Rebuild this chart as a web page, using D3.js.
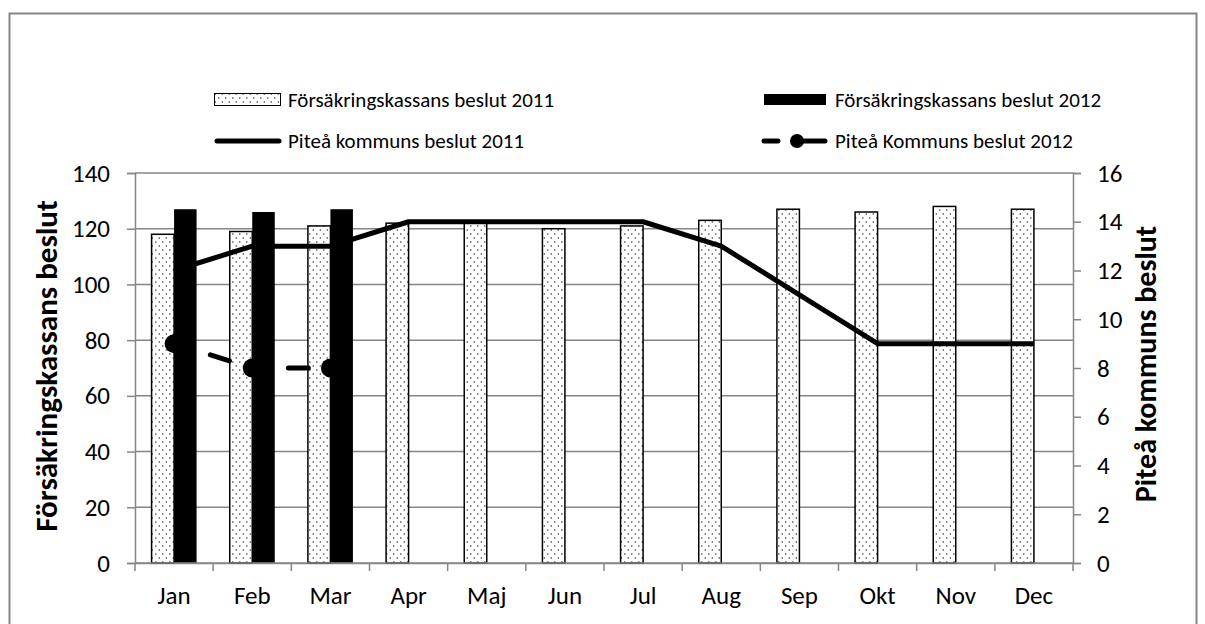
<!DOCTYPE html>
<html><head><meta charset="utf-8">
<script src="https://cdn.jsdelivr.net/npm/d3@7"></script>
<style>
body{margin:0;background:#fff;}
svg text{font-family:Carlito,Calibri,Lato,"Open Sans",sans-serif;fill:#000;}
</style></head>
<body>
<svg id="c" width="1205" height="624"></svg>
<script>
const months = ["Jan","Feb","Mar","Apr","Maj","Jun","Jul","Aug","Sep","Okt","Nov","Dec"];
const fk2011 = [118,119,121,122,122,120,121,123,127,126,128,127];
const fk2012 = [127,126,127];
const pk2011 = [12,13,13,14,14,14,14,13,11,9,9,9];
const pk2012 = [9,8,8];
const leftTicks = [0,20,40,60,80,100,120,140];
const rightTicks = [0,2,4,6,8,10,12,14,16];
const seriesNames = ["Försäkringskassans beslut 2011","Försäkringskassans beslut 2012","Piteå kommuns beslut 2011","Piteå Kommuns beslut 2012"];
const leftTitle = "Försäkringskassans beslut";
const rightTitle = "Piteå kommuns beslut";

const svg = d3.select("#c");
const L=135, R=1073, T=173, B=563;
const grey="#868686";

const defs = svg.append("defs");
const pat = defs.append("pattern").attr("id","dots").attr("patternUnits","userSpaceOnUse")
  .attr("width",7).attr("height",8);
pat.append("rect").attr("width",7).attr("height",8).attr("fill","#fff");
pat.append("circle").attr("cx",1.8).attr("cy",2).attr("r",0.8).attr("fill","#333");
pat.append("circle").attr("cx",5.3).attr("cy",6).attr("r",0.8).attr("fill","#333");

// outer border (bottom edge off-canvas)
svg.append("rect").attr("x",9.5).attr("y",13.5).attr("width",1187).attr("height",640)
  .attr("fill","none").attr("stroke",grey).attr("stroke-width",2);

const x = d3.scaleBand().domain(months).range([L,R]);
const yL = d3.scaleLinear().domain([0,140]).range([B,T]);
const yR = d3.scaleLinear().domain([0,16]).range([B,T]);

// gridlines
svg.append("g").selectAll("line").data(leftTicks.filter(d=>d>0)).join("line")
  .attr("x1",L).attr("x2",R).attr("y1",d=>yL(d)).attr("y2",d=>yL(d))
  .attr("stroke",grey).attr("stroke-width",1.5);

// axes
const axL = svg.append("g").attr("transform",`translate(${L},0)`)
  .call(d3.axisLeft(yL).tickValues(leftTicks).tickSize(8).tickPadding(17));
const axR = svg.append("g").attr("transform",`translate(${R},0)`)
  .call(d3.axisRight(yR).tickValues(rightTicks).tickSize(8).tickPadding(16));
const axB = svg.append("g").attr("transform",`translate(0,${B})`)
  .call(d3.axisBottom(x).tickSize(0).tickPadding(23));
[axL,axR,axB].forEach(a=>{
  a.select(".domain").attr("stroke",grey).attr("stroke-width",1.5);
  a.selectAll(".tick line").attr("stroke",grey).attr("stroke-width",1.5);
  a.selectAll("text").attr("font-size",25).attr("font-family",null);
});
// category boundary ticks
const bounds = months.map(m=>x(m)).concat([R]);
svg.append("g").selectAll("line").data(bounds).join("line")
  .attr("x1",d=>d).attr("x2",d=>d).attr("y1",B).attr("y2",B+8)
  .attr("stroke",grey).attr("stroke-width",1.5);

const bw = 22.5;
const cx = m => x(m)+x.bandwidth()/2;
svg.append("g").selectAll("rect").data(fk2011).join("rect")
  .attr("x",(d,i)=>cx(months[i])-bw).attr("width",bw)
  .attr("y",d=>yL(d)).attr("height",d=>B-yL(d))
  .attr("fill","url(#dots)").attr("stroke","#000").attr("stroke-width",1.5);
svg.append("g").selectAll("rect").data(fk2012).join("rect")
  .attr("x",(d,i)=>cx(months[i])).attr("width",bw)
  .attr("y",d=>yL(d)).attr("height",d=>B-yL(d))
  .attr("fill","#000");

// redraw bottom axis line over bars
svg.append("line").attr("x1",L).attr("x2",R).attr("y1",B).attr("y2",B).attr("stroke",grey).attr("stroke-width",1.5);

const line = d3.line().x((d,i)=>cx(months[i])).y(d=>yR(d));
svg.append("path").datum(pk2011).attr("d",line).attr("fill","none")
  .attr("stroke","#000").attr("stroke-width",5).attr("stroke-linejoin","round");
svg.append("path").datum(pk2012).attr("d",line).attr("fill","none")
  .attr("stroke","#000").attr("stroke-width",5).attr("stroke-linecap","round")
  .attr("stroke-dasharray","0,38,20,22");
svg.append("g").selectAll("circle").data(pk2012).join("circle")
  .attr("cx",(d,i)=>cx(months[i])).attr("cy",d=>yR(d)).attr("r",9.5).attr("fill","#000");

// axis titles
svg.append("text").attr("transform",`translate(57,${(T+B)/2-2}) rotate(-90)`)
  .attr("text-anchor","middle").attr("font-size",31).attr("font-weight","bold").text(leftTitle);
svg.append("text").attr("transform",`translate(1156,${(T+B)/2-4}) rotate(-90)`)
  .attr("text-anchor","middle").attr("font-size",30).attr("font-weight","bold").text(rightTitle);

// legend
const lg = svg.append("g");
lg.append("rect").attr("x",214.5).attr("y",93.5).attr("width",66).attr("height",12)
  .attr("fill","url(#dots)").attr("stroke","#000").attr("stroke-width",1);
lg.append("rect").attr("x",764).attr("y",94).attr("width",62).attr("height",11).attr("fill","#000");
lg.append("line").attr("x1",217).attr("x2",279).attr("y1",141).attr("y2",141)
  .attr("stroke","#000").attr("stroke-width",5).attr("stroke-linecap","round");
lg.append("line").attr("x1",764).attr("x2",778).attr("y1",141).attr("y2",141)
  .attr("stroke","#000").attr("stroke-width",5).attr("stroke-linecap","round");
lg.append("line").attr("x1",797).attr("x2",825).attr("y1",141).attr("y2",141)
  .attr("stroke","#000").attr("stroke-width",5).attr("stroke-linecap","round");
lg.append("circle").attr("cx",797).attr("cy",141).attr("r",7).attr("fill","#000");
const lt = [[288,107,seriesNames[0]],[835,107,seriesNames[1]],[288,148,seriesNames[2]],[835,148,seriesNames[3]]];
lg.selectAll("text").data(lt).join("text").attr("x",d=>d[0]).attr("y",d=>d[1])
  .attr("font-size",21).text(d=>d[2]);
</script>
</body></html>
